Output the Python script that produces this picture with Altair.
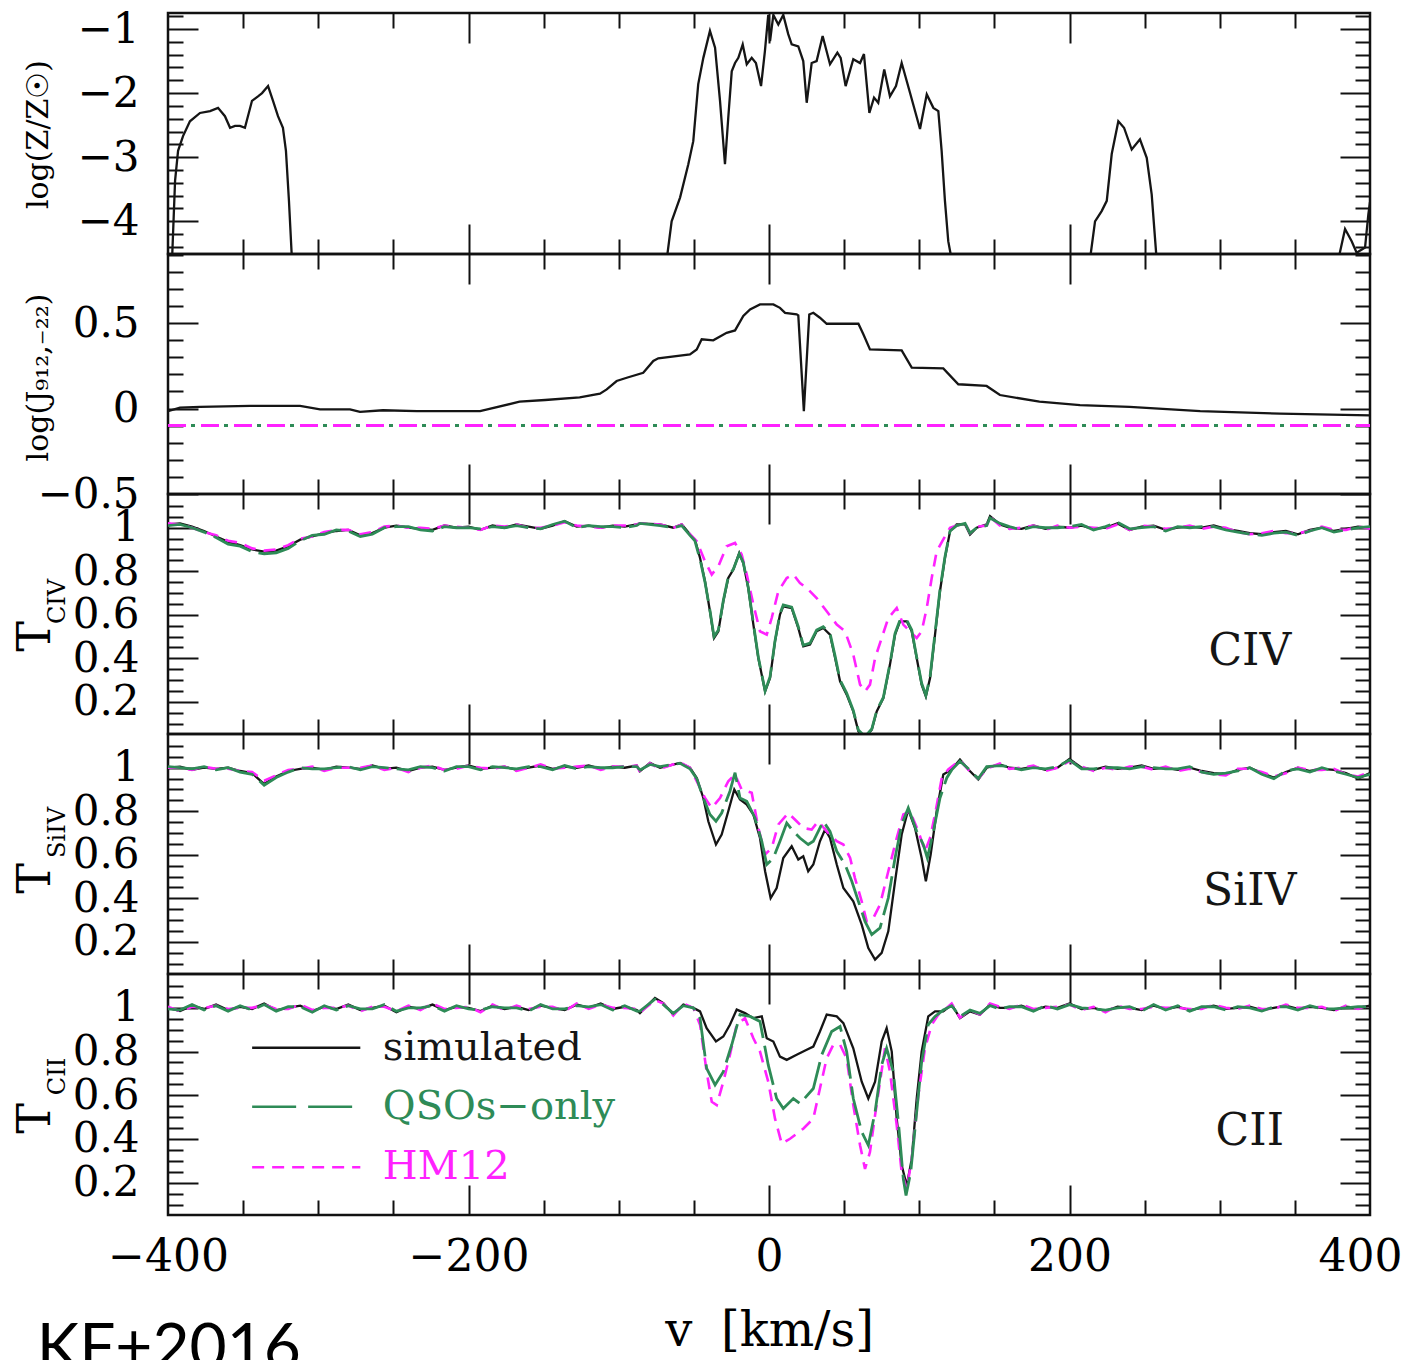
import altair as alt
import pandas as pd

# ---------------- layout / style ----------------
W = 1202
HEIGHTS = [241, 240, 240, 240, 241]
BLACK = "#151515"
GREEN = "#2e8b57"
MAGENTA = "#ff22ff"
SERIF = "DejaVu Serif"

X_DOMAIN = [-400, 400]
X_MAJOR = [-200, 0, 200]
X_MINOR = [-350, -300, -250, -150, -100, -50, 50, 100, 150, 250, 300, 350]
X_LABELS = [-400, -200, 0, 200, 400]

# ---------------- panel 1 : log(Z/Zsun) ----------------
Z_V = [-400, -397.3, -395.3, -393.3, -390.0, -385.4, -378.7, -372.0, -366.7, -362.1, -358.7, -355.4, -352.1,
       -348.8, -344.1, -340.1, -337.4, -333.4, -330.1, -326.8, -323.5, -321.5, -319.5, -317.5, -316, -70,
       -68.1, -64.8, -59.2, -53.7, -50.4, -47.1, -43.7, -39.3, -35.9, -32.6, -29.3, -27.1, -24.8, -22.6, -20.4,
       -17.5, -14.8, -11.5, -8.7, -5.3, -2.7, -0.5, 0.7, 2.9, 6.2, 9.5, 12.8, 15.1, 19.5, 22.8, 25.1, 28.4,
       31.7, 35.7, 40.6, 45.5, 47.7, 51.0, 56.1, 60.6, 63.2, 66.8, 69.9, 72.7, 76.7, 80.5, 84.5, 88.3, 93.8,
       100.5, 105.0, 109.4, 112.7, 114.9, 117.1, 119.3, 121.6, 123, 212,
       213.6, 217.0, 221.4, 224.8, 228.1, 232.5, 236.3, 241.4, 246.9, 251.4, 254.7, 258.0, 260, 377,
       378.9, 383.4, 387.8, 391.1, 396.7, 398.9, 400]
Z_VAL = [-6, -4.6, -3.37, -2.9, -2.67, -2.44, -2.31, -2.28, -2.23, -2.36, -2.54, -2.51, -2.51,
         -2.54, -2.12, -2.05, -2.0, -1.89, -2.12, -2.36, -2.54, -2.9, -3.68, -4.6, -6, -6,
         -4.6, -4.0, -3.63, -3.11, -2.75, -1.86, -1.45, -1.03, -1.29, -2.12, -3.11, -2.38, -1.66, -1.53, -1.45,
         -1.24, -1.55, -1.45, -1.53, -1.89, -1.34, -0.78, -1.19, -0.78, -0.93, -0.78, -1.08, -1.24, -1.27, -1.5,
         -2.15, -1.53, -1.5, -1.11, -1.55, -1.37, -1.45, -1.89, -1.47, -1.53, -1.39, -2.31, -2.07, -2.15, -1.63,
         -2.05, -1.89, -1.53, -1.99, -2.56, -2.02, -2.23, -2.28, -2.9, -3.68, -4.31, -4.6, -6, -6,
         -4.6, -4.0, -3.84, -3.68, -2.95, -2.44, -2.54, -2.88, -2.72, -3.01, -3.58, -4.6, -6, -6,
         -4.6, -4.12, -4.31, -4.49, -4.41, -3.89, -3.7]

# ---------------- panel 2 : log(J912) ----------------
J_V = [-400, -392, -378.7, -345.4, -312.1, -298.8, -278.9, -272.2, -256.9, -234.3, -192.3, -166, -149, -126,
       -112.5, -108, -101.4, -94.7, -83.7, -77, -73.7, -52.6, -48.1, -44.8, -37.1, -28.2, -22.6, -17.1, -12.6,
       -6.0, 2.9, 7.3, 10.7, 18.4, 19.5, 23.2, 26.8, 29.5, 33.9, 38.4, 59.5, 62.8, 67.2, 88.3, 95.0, 116.0,
       126.0, 144.8, 153.7, 180, 207, 240, 287, 340, 400]
J_VAL = [-0.015, 0.005, 0.01, 0.015, 0.015, -0.005, -0.005, -0.02, -0.01, -0.015, -0.015, 0.04, 0.05, 0.065,
         0.087, 0.112, 0.161, 0.18, 0.209, 0.278, 0.294, 0.317, 0.346, 0.405, 0.399, 0.443, 0.457, 0.541, 0.58,
         0.609, 0.609, 0.589, 0.56, 0.551, 0.545, -0.015, 0.55, 0.56, 0.531, 0.496, 0.496, 0.434, 0.346, 0.34,
         0.239, 0.235, 0.142, 0.132, 0.079, 0.04, 0.02, 0.01, -0.015, -0.03, -0.04]
UVB_V = [-400, 400]
UVB_QSO = [-0.1, -0.1]
UVB_HM12 = [-0.1, -0.1]

# ---------------- panels 3-5 : transmission ----------------
V_LEFT = [-400, -392, -384, -376, -368, -360, -352, -344, -336, -328, -320, -312, -304, -296, -288, -280,
          -272, -264, -256, -248, -240, -232, -224, -216, -208, -200, -192, -184, -176, -168, -160, -152,
          -144, -136, -128, -120, -112, -104, -96, -88]
V_RIGHT = [160, 168, 176, 184, 192, 200, 208, 216, 224, 232, 240, 248, 256, 264, 272, 280, 288, 296, 304,
           312, 320, 328, 336, 344, 352, 360, 368, 376, 384, 392, 400]

# CIV
CIV_SIM_L = [1.015, 1.02, 1.005, 0.985, 0.96, 0.935, 0.92, 0.9, 0.89, 0.895, 0.915, 0.945, 0.96, 0.975, 0.985,
             0.99, 0.965, 0.975, 1.0, 1.01, 1.0, 0.995, 0.99, 1.01, 1.0, 1.005, 0.99, 1.01, 1.0, 1.015, 1.005,
             0.995, 1.01, 1.03, 1.005, 1.01, 1.0, 1.01, 1.005, 1.015]
CIV_QSO_L = [1.01, 1.015, 1.0, 0.98, 0.955, 0.925, 0.915, 0.89, 0.88, 0.885, 0.905, 0.94, 0.965, 0.97, 0.99,
             0.985, 0.96, 0.97, 1.0, 1.005, 1.005, 0.99, 0.985, 1.005, 1.0, 1.0, 0.995, 1.005, 1.0, 1.01, 1.0,
             0.995, 1.015, 1.03, 1.0, 1.01, 1.005, 1.005, 1.0, 1.01]
CIV_HM_L = [1.02, 1.015, 1.0, 0.98, 0.965, 0.94, 0.93, 0.905, 0.895, 0.9, 0.92, 0.95, 0.96, 0.98, 0.99, 0.99,
            0.97, 0.98, 1.005, 1.01, 1.0, 1.0, 0.995, 1.01, 1.005, 1.0, 0.99, 1.01, 1.005, 1.015, 1.0, 1.0,
            1.01, 1.025, 1.01, 1.005, 1.0, 1.01, 1.01, 1.015]
CIV_SIM_R = [1.0, 0.995, 1.01, 0.995, 1.005, 1.0, 1.01, 0.995, 1.0, 1.02, 0.99, 1.005, 1.01, 0.99, 1.0, 1.005,
             1.0, 1.01, 0.995, 0.985, 0.975, 0.97, 0.98, 0.985, 0.97, 0.99, 1.0, 0.985, 0.995, 1.005, 1.0]
CIV_QSO_R = [1.005, 0.99, 1.005, 1.0, 1.0, 1.005, 1.015, 0.99, 1.005, 1.025, 0.995, 1.0, 1.005, 0.985, 1.005,
             1.0, 1.005, 1.005, 0.99, 0.98, 0.97, 0.965, 0.975, 0.98, 0.965, 0.985, 1.0, 0.98, 0.99, 1.0, 1.005]
CIV_HM_R = [0.995, 1.0, 1.01, 0.99, 1.01, 1.0, 1.005, 1.0, 0.995, 1.015, 0.99, 1.01, 1.005, 0.995, 1.0, 1.01,
            0.995, 1.005, 1.0, 0.98, 0.97, 0.975, 0.985, 0.975, 0.975, 0.985, 1.005, 0.99, 0.99, 1.005, 0.995]
CIV_SIM_AV = [-85.9, -72.5, -63.7, -58.1, -52.6, -49.3, -45.9, -42.6, -39.3, -36.6, -33.7, -30.4, -27.1, -23.7,
              -19.8, -17.1, -13.8, -10.4, -7.1, -2.6, 0.7, 4.0, 7.3, 9.5, 15.1, 19.5, 22.8, 27.3, 31.7, 36.1,
              40.6, 44.0, 47.3, 51.7, 56.1, 59.5, 63.9, 68.4, 71.7, 76.1, 80.5, 83.9, 87.2, 91.7, 95.0, 98.3,
              101.6, 104.4, 107.2, 110.5, 113.8, 117.1, 120.5, 124.9, 130.5, 133.8, 138.2, 144.9, 147.1, 153.7]
CIV_SIM_AT = [1.02, 1.015, 1.0, 1.015, 0.97, 0.946, 0.861, 0.754, 0.616, 0.493, 0.524, 0.662, 0.769, 0.808,
              0.884, 0.838, 0.723, 0.555, 0.401, 0.248, 0.309, 0.478, 0.601, 0.639, 0.631, 0.539, 0.455, 0.463,
              0.524, 0.539, 0.509, 0.401, 0.294, 0.233, 0.156, 0.064, 0.035, 0.072, 0.156, 0.217, 0.371, 0.509,
              0.57, 0.57, 0.524, 0.401, 0.279, 0.225, 0.309, 0.509, 0.708, 0.861, 0.984, 1.015, 1.015, 0.969,
              1.0, 1.015, 1.053, 1.015]
CIV_QSO_AV = CIV_SIM_AV
CIV_QSO_AT = [1.02, 1.01, 1.0, 1.01, 0.965, 0.94, 0.855, 0.75, 0.62, 0.5, 0.53, 0.665, 0.775, 0.81, 0.88, 0.84,
              0.725, 0.56, 0.405, 0.25, 0.315, 0.48, 0.605, 0.645, 0.635, 0.545, 0.46, 0.47, 0.53, 0.545, 0.515,
              0.41, 0.3, 0.24, 0.16, 0.07, 0.04, 0.075, 0.16, 0.22, 0.375, 0.515, 0.575, 0.575, 0.53, 0.405,
              0.285, 0.23, 0.315, 0.515, 0.715, 0.865, 0.985, 1.01, 1.02, 0.975, 1.0, 1.01, 1.045, 1.02]
CIV_HM_AV = [-85.9, -72.5, -63.7, -58.1, -52.6, -48.1, -42.6, -38.1, -33.7, -28.2, -22.6, -18.2, -14.8, -10.4,
             -6.0, -1.5, 1.8, 6.2, 11.8, 16.2, 20.6, 25.1, 31.7, 38.4, 45.1, 50.6, 56.1, 60.6, 63.9, 67.2, 70.6,
             75.0, 79.4, 85.0, 89.4, 93.8, 98.3, 101.6, 105.0, 108.3, 111.6, 116.0, 120.5, 124.9, 130.5, 133.8,
             138.2, 144.9, 147.1, 153.7]
CIV_HM_AT = [1.02, 1.015, 1.0, 1.015, 0.97, 0.938, 0.846, 0.785, 0.823, 0.915, 0.93, 0.877, 0.785, 0.647,
             0.524, 0.509, 0.585, 0.708, 0.769, 0.785, 0.746, 0.723, 0.677, 0.616, 0.555, 0.524, 0.417, 0.279,
             0.248, 0.279, 0.401, 0.493, 0.585, 0.631, 0.555, 0.524, 0.493, 0.524, 0.631, 0.769, 0.892, 0.946,
             1.0, 1.01, 1.02, 0.975, 1.005, 1.01, 1.05, 1.01]

# SiIV
SIIV_SIM_L = [1.0, 1.005, 0.99, 1.0, 0.995, 1.0, 0.985, 0.975, 0.925, 0.96, 0.985, 0.995, 1.0, 0.99, 1.005, 1.0,
              0.995, 1.01, 0.995, 1.0, 0.985, 1.0, 1.005, 0.99, 1.0, 1.01, 0.995, 1.0, 1.005, 0.99, 1.0, 1.01,
              0.995, 1.005, 1.0, 1.01, 0.995, 1.005, 1.0, 1.01]
SIIV_QSO_L = [1.005, 1.0, 0.995, 1.005, 0.99, 1.0, 0.98, 0.97, 0.92, 0.955, 0.98, 1.0, 0.995, 0.995, 1.0, 1.005,
              0.99, 1.005, 1.0, 0.995, 0.99, 1.005, 1.0, 0.985, 1.005, 1.005, 0.99, 1.005, 1.0, 0.995, 1.005,
              1.005, 0.99, 1.01, 0.995, 1.005, 1.0, 1.0, 1.005, 1.005]
SIIV_HM_L = [1.0, 1.0, 0.99, 1.005, 0.995, 0.995, 0.985, 0.98, 0.94, 0.965, 0.99, 0.995, 1.005, 0.985, 1.0, 1.0,
             1.0, 1.01, 0.99, 1.0, 0.98, 1.0, 1.01, 0.99, 0.995, 1.01, 1.0, 0.995, 1.005, 0.985, 1.0, 1.015,
             0.995, 1.0, 1.005, 1.01, 0.99, 1.005, 1.005, 1.01]
SIIV_SIM_R = [1.0, 0.995, 1.005, 0.99, 1.0, 1.04, 1.0, 0.99, 1.005, 0.995, 1.0, 1.01, 0.995, 1.0, 0.99, 1.0,
              0.985, 0.975, 0.97, 0.99, 1.0, 0.975, 0.955, 0.98, 1.0, 0.985, 0.995, 0.99, 0.975, 0.95, 0.975]
SIIV_QSO_R = [1.005, 0.99, 1.0, 0.995, 1.005, 1.035, 0.995, 0.995, 1.0, 1.0, 0.995, 1.005, 1.0, 0.995, 0.995,
              1.005, 0.98, 0.97, 0.975, 0.985, 1.0, 0.97, 0.95, 0.985, 0.995, 0.98, 1.0, 0.985, 0.97, 0.955, 0.97]
SIIV_HM_R = [0.995, 1.0, 1.01, 0.985, 1.0, 1.03, 1.005, 0.985, 1.0, 0.99, 1.005, 1.005, 0.99, 1.005, 0.985,
             0.995, 0.98, 0.97, 0.965, 0.995, 0.995, 0.98, 0.96, 0.975, 1.0, 0.99, 0.99, 0.995, 0.97, 0.96, 0.98]
SIIV_SIM_AV = [-85.9, -79.2, -72.5, -59.2, -52.6, -48.1, -43.7, -40.4, -35.3, -31.5, -27.1, -23.1, -19.3, -14.8,
               -10.4, -6.0, -2.6, 1.1, 5.1, 9.5, 15.1, 19.5, 22.8, 26.1, 29.5, 33.9, 37.3, 40.6, 45.1, 49.5,
               56.1, 61.7, 66.1, 70.6, 75.0, 79.4, 83.9, 88.3, 92.7, 97.2, 101.6, 104.4, 107.6, 111.6, 116.0,
               121.6, 127.1, 132.7, 139.3, 144.9, 153.7]
SIIV_SIM_AT = [0.984, 1.022, 1.0, 1.022, 1.0, 0.953, 0.861, 0.754, 0.647, 0.693, 0.8, 0.9, 0.854, 0.831, 0.785,
               0.677, 0.524, 0.401, 0.447, 0.585, 0.639, 0.578, 0.593, 0.524, 0.555, 0.662, 0.716, 0.677, 0.555,
               0.447, 0.386, 0.279, 0.171, 0.118, 0.149, 0.248, 0.478, 0.693, 0.808, 0.723, 0.585, 0.478, 0.601,
               0.8, 0.969, 0.992, 1.038, 0.992, 0.946, 1.0, 1.015]
SIIV_QSO_AV = [-85.9, -79.2, -72.5, -59.2, -52.6, -48.1, -43.7, -39.3, -35.3, -31.5, -26.0, -22.6, -19.3, -14.8,
               -9.3, -4.8, -1.5, 2.9, 7.3, 11.8, 16.2, 20.6, 26.1, 29.5, 36.1, 40.6, 45.1, 50.6, 55.1, 59.5, 63.9,
               68.4, 73.9, 79.4, 83.9, 88.3, 92.7, 98.3, 102.7, 105.4, 109.4, 113.8, 118.3, 121.6, 127.1, 132.7,
               139.3, 144.9, 153.7]
SIIV_QSO_AT = [0.99, 1.015, 1.005, 1.02, 0.995, 0.95, 0.861, 0.785, 0.754, 0.792, 0.892, 0.977, 0.861, 0.846,
               0.769, 0.662, 0.555, 0.585, 0.662, 0.746, 0.708, 0.677, 0.647, 0.662, 0.754, 0.708, 0.616, 0.555,
               0.478, 0.386, 0.294, 0.233, 0.264, 0.401, 0.585, 0.739, 0.815, 0.708, 0.647, 0.585, 0.708, 0.861,
               0.953, 0.99, 1.03, 0.995, 0.95, 1.005, 1.01]
SIIV_HM_AV = [-85.9, -79.2, -72.5, -59.2, -52.6, -48.1, -42.6, -38.1, -32.6, -27.1, -22.6, -18.2, -11.5, -7.1,
              -2.6, 1.8, 6.2, 12.8, 18.4, 22.8, 28.4, 32.8, 38.4, 45.1, 49.5, 54.0, 57.2, 61.7, 65.0, 69.4, 73.9,
              79.4, 85.0, 89.4, 93.8, 99.4, 103.8, 107.2, 110.5, 115.0, 119.3, 127.1, 132.7, 139.3, 144.9, 153.7]
SIIV_HM_AT = [0.98, 1.02, 0.995, 1.025, 1.0, 0.938, 0.861, 0.815, 0.861, 0.938, 0.969, 0.9, 0.885, 0.723, 0.601,
              0.631, 0.739, 0.792, 0.754, 0.723, 0.716, 0.754, 0.708, 0.662, 0.647, 0.585, 0.493, 0.386, 0.294,
              0.309, 0.371, 0.524, 0.677, 0.785, 0.8, 0.708, 0.616, 0.677, 0.785, 0.953, 0.992, 1.035, 0.99,
              0.95, 0.995, 1.02]

# CII
CII_SIM_L = [1.0, 0.985, 1.01, 0.995, 1.015, 0.99, 1.005, 0.995, 1.02, 0.99, 1.0, 1.01, 0.985, 1.005, 0.995,
             1.015, 0.99, 1.0, 1.01, 0.98, 1.005, 0.995, 1.015, 0.99, 1.005, 1.0, 0.985, 1.01, 0.995, 1.005, 0.99,
             1.01, 1.0, 0.99, 1.015, 1.0, 1.02, 0.995, 1.005, 0.99]
CII_QSO_L = [0.995, 0.99, 1.015, 0.99, 1.01, 0.985, 1.01, 0.99, 1.015, 0.985, 1.005, 1.005, 0.98, 1.01, 0.99,
             1.01, 0.995, 0.995, 1.015, 0.985, 1.0, 1.0, 1.01, 0.985, 1.01, 0.995, 0.99, 1.005, 1.0, 1.0, 0.985,
             1.015, 0.995, 0.995, 1.01, 1.005, 1.015, 0.99, 1.01, 0.985]
CII_HM_L = [1.005, 0.985, 1.005, 1.0, 1.01, 0.995, 1.0, 1.0, 1.015, 0.995, 0.995, 1.015, 0.99, 1.0, 1.0, 1.01,
            0.985, 1.005, 1.005, 0.985, 1.01, 0.99, 1.02, 0.995, 1.0, 1.005, 0.98, 1.015, 0.99, 1.01, 0.995,
            1.005, 1.005, 0.985, 1.02, 0.995, 1.015, 1.0, 1.0, 0.995]
CII_SIM_R = [1.0, 1.01, 0.99, 1.005, 1.0, 1.02, 0.995, 1.0, 0.985, 1.005, 1.0, 0.99, 1.01, 0.995, 1.005, 0.99,
             1.0, 1.01, 0.995, 1.0, 1.005, 0.99, 1.0, 1.01, 0.995, 1.005, 1.0, 0.99, 1.005, 1.0, 1.01]
CII_QSO_R = [1.005, 1.005, 0.985, 1.01, 0.995, 1.015, 1.0, 0.995, 0.99, 1.0, 1.005, 0.985, 1.015, 0.99, 1.01,
             0.985, 1.005, 1.005, 0.99, 1.005, 1.0, 0.985, 1.005, 1.005, 0.99, 1.01, 0.995, 0.995, 1.0, 1.005,
             1.005]
CII_HM_R = [0.995, 1.015, 0.995, 1.0, 1.005, 1.015, 0.99, 1.005, 0.98, 1.01, 0.995, 0.995, 1.005, 1.0, 1.0,
            0.995, 0.995, 1.015, 1.0, 0.995, 1.01, 0.995, 0.995, 1.015, 1.0, 1.0, 1.005, 0.985, 1.01, 0.995, 1.015]
CII_SIM_AV = [-85.9, -75.9, -70.3, -63.7, -57.0, -50.4, -45.9, -41.5, -35.3, -30.4, -26.0, -21.5, -16.0, -10.4,
              -4.8, -1.5, 2.9, 7.3, 11.8, 18.4, 25.1, 29.5, 33.9, 38.4, 45.1, 49.5, 56.1, 61.7, 66.1, 70.6, 75.0,
              78.3, 81.7, 85.0, 88.3, 91.7, 95.0, 98.3, 101.6, 106.0, 110.5, 116.0, 121.6, 127.1, 133.8, 140.4,
              147.1, 153.7]
CII_SIM_AT = [0.976, 1.045, 1.022, 0.969, 1.015, 1.0, 0.984, 0.907, 0.846, 0.869, 0.923, 0.992, 0.976, 0.953,
              0.961, 0.861, 0.846, 0.777, 0.762, 0.785, 0.808, 0.823, 0.892, 0.969, 0.961, 0.93, 0.815, 0.662,
              0.585, 0.662, 0.846, 0.907, 0.8, 0.493, 0.279, 0.187, 0.309, 0.585, 0.8, 0.961, 0.984, 0.984, 1.015,
              0.953, 0.984, 0.969, 1.015, 1.0]
CII_QSO_AV = [-85.9, -75.9, -70.3, -63.7, -57.0, -50.4, -45.9, -41.5, -35.9, -30.4, -24.8, -19.3, -12.6, -6.0,
              -0.5, 5.1, 9.5, 16.2, 20.6, 29.5, 35.1, 41.7, 47.3, 51.7, 56.1, 61.7, 66.1, 70.6, 75.0, 78.3, 82.7,
              86.1, 89.4, 91.2, 94.3, 98.3, 101.6, 106.0, 110.5, 116.0, 121.6, 127.1, 133.8, 140.4, 147.1, 153.7]
CII_QSO_AT = [0.985, 1.04, 1.015, 0.975, 1.01, 1.0, 0.953, 0.723, 0.647, 0.708, 0.831, 0.969, 0.961, 0.938,
              0.739, 0.585, 0.539, 0.585, 0.562, 0.631, 0.785, 0.892, 0.915, 0.8, 0.585, 0.432, 0.371, 0.524,
              0.739, 0.815, 0.708, 0.478, 0.217, 0.141, 0.248, 0.524, 0.754, 0.923, 0.961, 0.99, 1.01, 0.96,
              0.99, 0.975, 1.01, 0.995]
CII_HM_AV = [-85.9, -75.9, -70.3, -63.7, -57.0, -50.4, -45.9, -41.5, -38.1, -34.8, -30.4, -26.0, -21.5, -16.0,
             -10.4, -6.0, -0.5, 4.0, 8.5, 14.0, 22.8, 29.5, 33.9, 38.4, 42.8, 47.3, 51.7, 56.1, 60.6, 63.9, 67.2,
             70.6, 73.9, 77.2, 80.5, 85.0, 88.3, 91.7, 95.0, 99.4, 103.8, 108.3, 112.7, 116.0, 121.6, 127.1,
             133.8, 140.4, 147.1, 153.7]
CII_HM_AT = [0.98, 1.035, 1.02, 0.965, 1.02, 1.0, 0.923, 0.708, 0.57, 0.555, 0.662, 0.785, 0.923, 0.953, 0.861,
             0.8, 0.662, 0.493, 0.378, 0.401, 0.447, 0.493, 0.631, 0.769, 0.831, 0.831, 0.769, 0.555, 0.371,
             0.263, 0.34, 0.509, 0.662, 0.815, 0.708, 0.463, 0.248, 0.171, 0.309, 0.601, 0.815, 0.923, 0.969,
             0.985, 1.02, 0.955, 0.99, 0.97, 1.02, 1.005]

ION_NAMES = ["CIV", "SiIV", "CII"]
ION_LABEL_V = [320]
ION_LABEL_T = [0.43]

LEGEND_NAMES = ["simulated", "QSOs\u2212only", "HM12"]
LEGEND_T = [0.818, 0.547, 0.271]
LEGEND_V0 = [-344, -344, -344]
LEGEND_V1 = [-272, -272, -272]
LEGEND_TEXT_V = [-257, -257, -257]

# ---------------- helpers ----------------
def frame(v, val):
    return pd.DataFrame({"v": v, "val": val})


def xs():
    return alt.Scale(domain=X_DOMAIN, nice=False, zero=False)


def ys(dom):
    return alt.Scale(domain=dom, nice=False, zero=False)


def tick_axis(orient, values, size, offset):
    return alt.Axis(orient=orient, values=values, tickSize=size, offset=offset, labels=False,
                    domain=False, ticks=True, grid=False, tickColor="#111111", tickWidth=2)


def tick_layers(df, ydom, H, ymaj, ymin):
    specs = [
        (tick_axis("bottom", X_MAJOR, 30, -H), tick_axis("right", ymaj, 30, -W)),
        (tick_axis("bottom", X_MINOR, 15, -H), tick_axis("right", ymin, 15, -W)),
        (tick_axis("top", X_MAJOR, 30, -H), tick_axis("left", ymaj, 30, -W)),
        (tick_axis("top", X_MINOR, 15, -H), tick_axis("left", ymin, 15, -W)),
    ]
    out = []
    for xa, ya in specs:
        out.append(alt.Chart(df).mark_line(opacity=0).encode(
            x=alt.X("v:Q", scale=xs(), axis=xa, title=None),
            y=alt.Y("val:Q", scale=ys(ydom), axis=ya, title=None)))
    return out


def label_axis(values, fmt, title, tfs, tx, ty):
    return alt.Axis(orient="left", values=values, format=fmt, ticks=False, domain=False, grid=False,
                    labelFont=SERIF, labelFontSize=42, labelPadding=29, labelColor="black",
                    labelOverlap=False, title=title, titleFont=SERIF, titleFontSize=tfs,
                    titleFontWeight="normal", titleColor="black", titleAngle=270, titleX=tx, titleY=ty,
                    titleAlign="center", titleBaseline="middle")


def sub_axis(title, tx, ty):
    return alt.Axis(orient="left", labels=False, ticks=False, domain=False, grid=False, title=title,
                    titleFont=SERIF, titleFontSize=24, titleFontWeight="normal", titleColor="black",
                    titleAngle=270, titleX=tx, titleY=ty, titleAlign="center", titleBaseline="middle")


def line(df, ydom, color, width, dash=None, xaxis=None, yaxis=None):
    kw = dict(color=color, strokeWidth=width, clip=True)
    if dash is not None:
        kw["strokeDash"] = dash
    return alt.Chart(df).mark_line(**kw).encode(
        x=alt.X("v:Q", scale=xs(), axis=xaxis),
        y=alt.Y("val:Q", scale=ys(ydom), axis=yaxis))


def finish(layers, H):
    return alt.layer(*layers).resolve_scale(x="independent", y="independent").resolve_axis(
        x="independent", y="independent").properties(width=W, height=H)


# ---------------- panel 1 ----------------
H1 = HEIGHTS[0]
D1 = [-4.51, -0.75]
z_df = frame(Z_V, Z_VAL)
p1 = finish([
    line(z_df, D1, BLACK, 2.3, yaxis=label_axis([-4, -3, -2, -1], "d", "log(Z/Z\u2609)", 30, -130, 121)),
] + tick_layers(z_df, D1, H1, [-4, -3, -2, -1],
                [-4.4, -4.2, -3.8, -3.6, -3.4, -3.2, -2.8, -2.6, -2.4, -2.2, -1.8, -1.6, -1.4, -1.2, -0.8]), H1)

# ---------------- panel 2 ----------------
H2 = HEIGHTS[1]
D2 = [-0.5, 0.904]
j_df = frame(J_V, J_VAL)
p2 = finish([
    line(j_df, D2, BLACK, 2.3, yaxis=label_axis([-0.5, 0, 0.5], "~g",
                                                "log(J\u2089\u2081\u2082,\u208b\u2082\u2082)", 30, -130, 123)),
    alt.Chart(frame(UVB_V, UVB_HM12)).mark_line(color=MAGENTA, strokeWidth=3, strokeDash=[18, 15]).encode(
        x=alt.X("v:Q", scale=xs(), axis=None), y=alt.Y("val:Q", scale=ys(D2), axis=None)),
    alt.Chart(frame(UVB_V, UVB_QSO)).mark_line(color=GREEN, strokeWidth=3, strokeDash=[4, 29],
                                               strokeDashOffset=10).encode(
        x=alt.X("v:Q", scale=xs(), axis=None), y=alt.Y("val:Q", scale=ys(D2), axis=None)),
] + tick_layers(j_df, D2, H2, [-0.5, 0, 0.5],
                [-0.4, -0.3, -0.2, -0.1, 0.1, 0.2, 0.3, 0.4, 0.6, 0.7, 0.8, 0.9]), H2)

# ---------------- panels 3-5 ----------------
DT = [0.052, 1.155]
T_MAJ = [0.2, 0.4, 0.6, 0.8, 1.0]
T_MIN = [0.1, 0.15, 0.25, 0.3, 0.35, 0.45, 0.5, 0.55, 0.65, 0.7, 0.75, 0.85, 0.9, 0.95, 1.05, 1.1]


def t_panel(idx, sim, qso, hm, sub_ty, main_ty, bottom=False):
    H = HEIGHTS[idx]
    sim_df = frame(V_LEFT + sim[0] + V_RIGHT, sim[1] + sim[2] + sim[3])
    qso_df = frame(V_LEFT + qso[0] + V_RIGHT, qso[1] + qso[2] + qso[3])
    hm_df = frame(V_LEFT + hm[0] + V_RIGHT, hm[1] + hm[2] + hm[3])
    xaxis = None
    if bottom:
        xaxis = alt.Axis(orient="bottom", values=X_LABELS, format="d", ticks=False, domain=False, grid=False,
                         labelFont=SERIF, labelFontSize=44, labelPadding=20, labelFlush=False,
                         labelAlign={"condition": {"test": "datum.value == 400", "value": "right"},
                                     "value": "center"},
                         labelOffset={"condition": {"test": "datum.value == 400", "value": 32}, "value": 0},
                         labelOverlap=False, labelColor="black", title="v\u2002\u200a[km/s]", titleFont=SERIF,
                         titleFontSize=48, titleFontWeight="normal", titleColor="black", titlePadding=28)
    name = ION_NAMES[idx - 2]
    layers = [
        line(sim_df, DT, BLACK, 2.3, xaxis=xaxis, yaxis=label_axis(T_MAJ, "~g", "T", 46, -133, main_ty)),
        line(hm_df, DT, MAGENTA, 2.6, dash=[12, 8]),
        line(qso_df, DT, GREEN, 2.8, dash=[40, 8]),
        alt.Chart(sim_df).mark_line(opacity=0).encode(
            x=alt.X("v:Q", scale=xs(), axis=None),
            y=alt.Y("val:Q", scale=ys(DT), axis=sub_axis(name, -111, sub_ty))),
        alt.Chart(pd.DataFrame({"v": ION_LABEL_V, "val": ION_LABEL_T, "name": [name]})).mark_text(
            font=SERIF, fontSize=44, align="center", baseline="middle", color=BLACK).encode(
            x=alt.X("v:Q", scale=xs(), axis=None), y=alt.Y("val:Q", scale=ys(DT), axis=None), text="name:N"),
    ]
    if bottom:
        leg = pd.DataFrame({"name": LEGEND_NAMES, "v0": LEGEND_V0, "v1": LEGEND_V1, "tv": LEGEND_TEXT_V,
                            "val": LEGEND_T})
        cscale = alt.Scale(domain=LEGEND_NAMES, range=[BLACK, GREEN, MAGENTA])
        layers.append(alt.Chart(leg).mark_rule(strokeWidth=2.5).encode(
            x=alt.X("v0:Q", scale=xs(), axis=None), x2="v1:Q",
            y=alt.Y("val:Q", scale=ys(DT), axis=None),
            color=alt.Color("name:N", scale=cscale, legend=None),
            strokeDash=alt.StrokeDash("name:N", scale=alt.Scale(domain=LEGEND_NAMES,
                                                                range=[[1, 0], [44, 12], [12, 8]]), legend=None)))
        layers.append(alt.Chart(leg).mark_text(font=SERIF, fontSize=40, align="left", baseline="middle").encode(
            x=alt.X("tv:Q", scale=xs(), axis=None), y=alt.Y("val:Q", scale=ys(DT), axis=None),
            text="name:N", color=alt.Color("name:N", scale=cscale, legend=None)))
    layers += tick_layers(sim_df, DT, H, T_MAJ, T_MIN)
    return finish(layers, H)


p3 = t_panel(2, (CIV_SIM_AV, CIV_SIM_L, CIV_SIM_AT, CIV_SIM_R), (CIV_QSO_AV, CIV_QSO_L, CIV_QSO_AT, CIV_QSO_R),
             (CIV_HM_AV, CIV_HM_L, CIV_HM_AT, CIV_HM_R), 107, 142)
p4 = t_panel(3, (SIIV_SIM_AV, SIIV_SIM_L, SIIV_SIM_AT, SIIV_SIM_R),
             (SIIV_QSO_AV, SIIV_QSO_L, SIIV_QSO_AT, SIIV_QSO_R),
             (SIIV_HM_AV, SIIV_HM_L, SIIV_HM_AT, SIIV_HM_R), 98, 144)
p5 = t_panel(4, (CII_SIM_AV, CII_SIM_L, CII_SIM_AT, CII_SIM_R), (CII_QSO_AV, CII_QSO_L, CII_QSO_AT, CII_QSO_R),
             (CII_HM_AV, CII_HM_L, CII_HM_AT, CII_HM_R), 102, 144, bottom=True)

chart = alt.vconcat(p1, p2, p3, p4, p5, spacing=0, bounds="flush").properties(
    padding={"left": 2, "top": -2, "right": 0, "bottom": 0},
    background="white",
    title=alt.TitleParams("KF+2016", orient="bottom", anchor="start", font="Lato", fontSize=64,
                          fontWeight="normal", color="black", offset=-38, dx=26),
).configure_view(stroke="#111111", strokeWidth=2.5)

chart.save("out.html", embed_options={"renderer": "svg", "actions": False})
